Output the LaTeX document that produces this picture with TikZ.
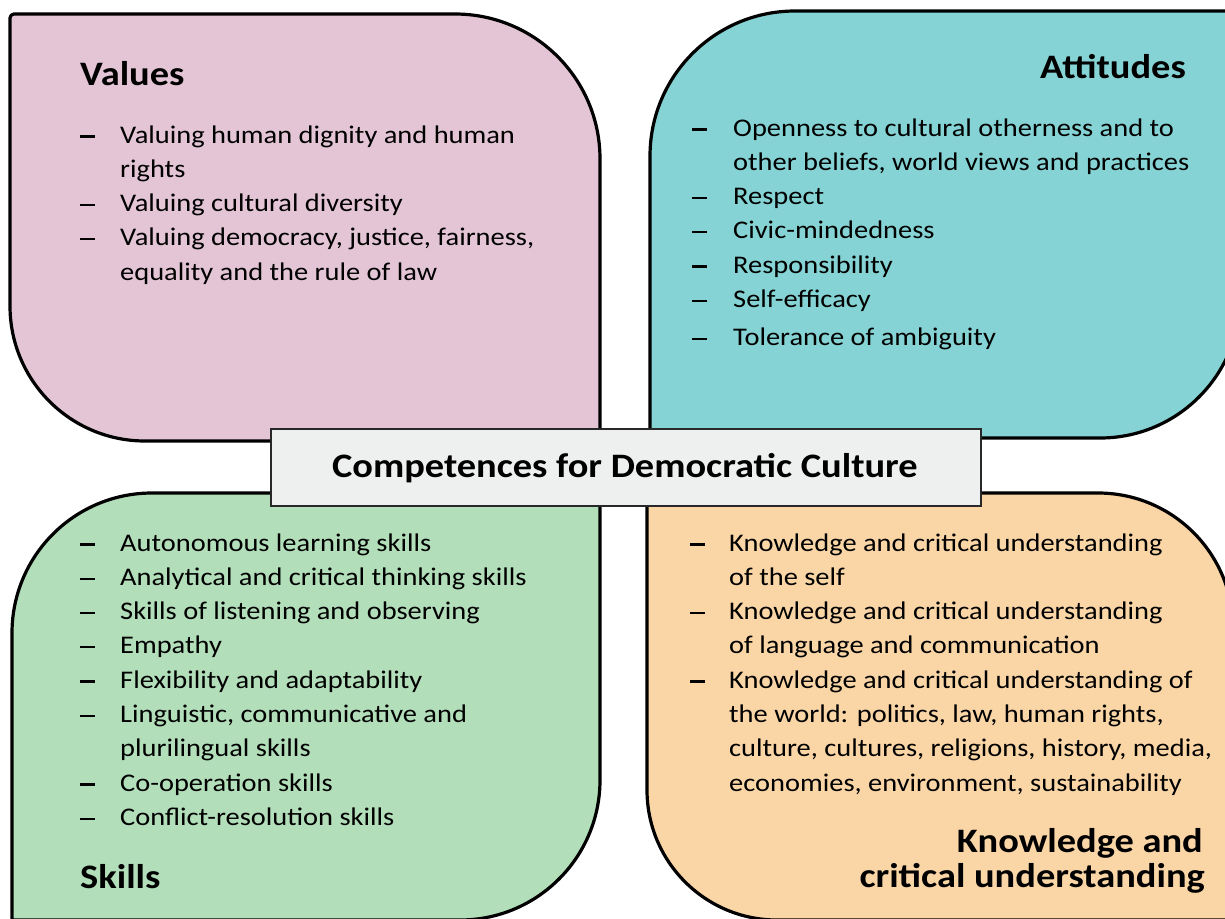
\documentclass[tikz,border=0pt]{standalone}
\usepackage{fontspec}
\setmainfont{Carlito}[FakeStretch=1.12]
\definecolor{cvalues}{RGB}{227,197,213}
\definecolor{cattitudes}{RGB}{133,211,212}
\definecolor{cskills}{RGB}{178,222,186}
\definecolor{cknow}{RGB}{250,214,167}
\definecolor{ccentre}{RGB}{238,240,239}
\definecolor{cframe}{RGB}{40,40,40}
\newcommand{\cdcbody}{\fontsize{25.4}{34.3}\selectfont}
\newcommand{\cdchead}{\bfseries\fontsize{34.3}{35}\selectfont}
\newcommand{\cdcdash}[1][40pt]{\makebox[#1][l]{\rule[5.5pt]{15pt}{2.3pt}}}
\renewcommand{\arraystretch}{1}
\begin{document}
\begin{tikzpicture}[x=1pt,y=-1pt,
  quad/.style={line width=3.2pt,draw=black,line join=round},
  listtext/.style={inner sep=0pt,anchor=base west,font=\cdcbody},
  headw/.style={inner sep=0pt,anchor=base west,font=\cdchead},
  heade/.style={inner sep=0pt,anchor=base east,font=\cdchead}]
\useasboundingbox (0,0) rectangle (1225,918);
\begin{scope}
\clip (0,0) rectangle (1225,918);
% Values
\draw[quad,fill=cvalues] (10,18) arc[start angle=180,end angle=270,radius=4]
  -- (455,14) arc[start angle=270,end angle=360,radius=145]
  -- (600,441) -- (145,441) arc[start angle=90,end angle=180,radius=135] -- cycle;
% Attitudes
\draw[quad,fill=cattitudes] (650,156) arc[start angle=180,end angle=270,radius=145]
  -- (1240,11) -- (1240,298) arc[start angle=0,end angle=90,radius=140]
  -- (650,438) -- cycle;
% Skills
\draw[quad,fill=cskills] (12,633) arc[start angle=180,end angle=270,radius=140]
  -- (600,493) -- (600,780) arc[start angle=0,end angle=90,radius=140]
  -- (12,920) -- cycle;
% Knowledge
\draw[quad,fill=cknow] (647,493) -- (1098,493) arc[start angle=270,end angle=360,radius=135]
  -- (1233,920) -- (777,920) arc[start angle=90,end angle=180,radius=130] -- cycle;
\end{scope}
% centre box
\node (centre) [draw=cframe,line width=1.5pt,fill=ccentre,minimum width=710pt,minimum height=77pt,
  inner sep=0pt,anchor=north west] at (270,428) {};
\node (centretext) [inner sep=0pt,anchor=base,font=\cdchead] at (625,477)
  {Competences for Democratic Culture};
% Values
\node (vtitle) [headw] at (80,85) {Values};
\node (vlist) [listtext] at (80,143) {\begin{tabular}[t]{@{}l@{}l@{}}
\cdcdash & Valuing human dignity and human\\
 & rights\\
\cdcdash & Valuing cultural diversity\\
\cdcdash & Valuing democracy, justice, fairness,\\
 & equality and the rule of law
\end{tabular}};
% Attitudes
\node (atitle) [heade] at (1186,78) {Attitudes};
\node (alist) [listtext] at (692,136) {\begin{tabular}[t]{@{}l@{}l@{}}
\cdcdash[41pt] & Openness to cultural otherness and to\\
 & other beliefs, world views and practices\\
\cdcdash[41pt] & Respect\\
\cdcdash[41pt] & Civic-mindedness\\
\cdcdash[41pt] & Responsibility\\
\cdcdash[41pt] & Self-efficacy\\[4pt]
\cdcdash[41pt] & Tolerance of ambiguity
\end{tabular}};
% Skills
\node (slist) [listtext] at (80,551) {\begin{tabular}[t]{@{}l@{}l@{}}
\cdcdash & Autonomous learning skills\\
\cdcdash & Analytical and critical thinking skills\\
\cdcdash & Skills of listening and observing\\
\cdcdash & Empathy\\
\cdcdash & Flexibility and adaptability\\
\cdcdash & Linguistic, communicative and\\
 & plurilingual skills\\
\cdcdash & Co-operation skills\\
\cdcdash & Conflict-resolution skills
\end{tabular}};
\node (stitle) [headw] at (80,888) {Skills};
% Knowledge
\node (klist) [listtext] at (690,551) {\begin{tabular}[t]{@{}l@{}l@{}}
\cdcdash[39pt] & Knowledge and critical understanding\\
 & of the self\\
\cdcdash[39pt] & Knowledge and critical understanding\\
 & of language and communication\\
\cdcdash[39pt] & Knowledge and critical understanding of\\
 & the world: politics, law, human rights,\\
 & culture, cultures, religions, history, media,\\
 & economies, environment, sustainability
\end{tabular}};
\node (ktitle1) [heade] at (1203,852) {Knowledge and};
\node (ktitle2) [heade] at (1205,887) {critical understanding};
\end{tikzpicture}
\end{document}
